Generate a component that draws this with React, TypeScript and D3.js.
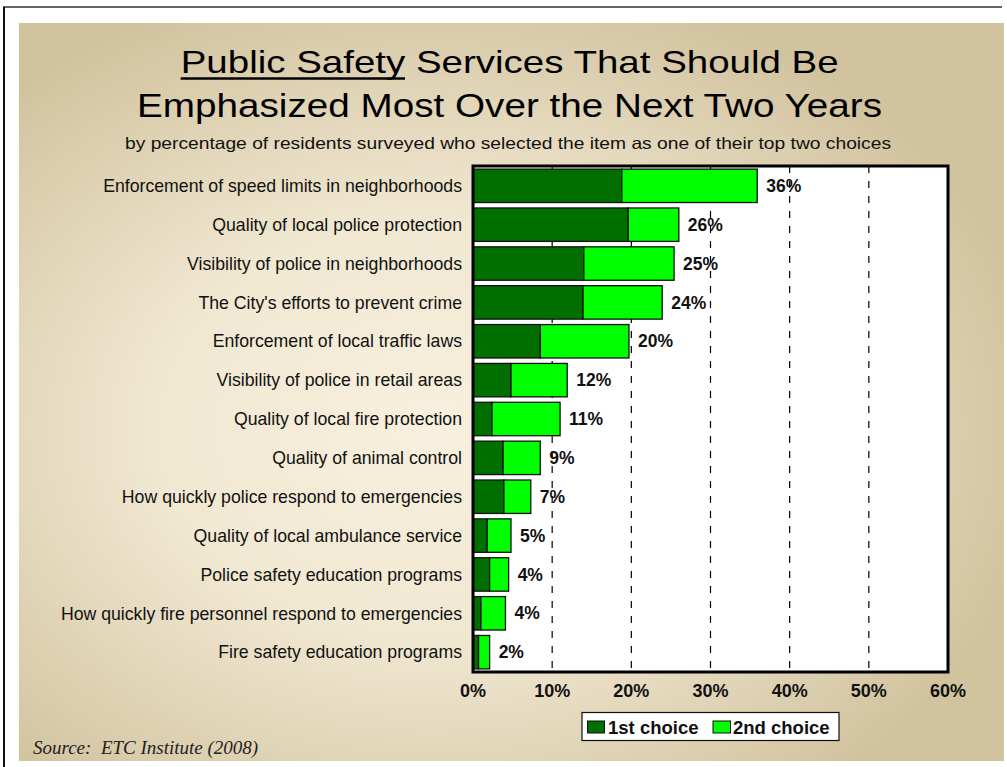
import React from "react";
import * as d3 from "d3";

const categories = [
  "Enforcement of speed limits in neighborhoods",
  "Quality of local police protection",
  "Visibility of police in neighborhoods",
  "The City's efforts to prevent crime",
  "Enforcement of local traffic laws",
  "Visibility of police in retail areas",
  "Quality of local fire protection",
  "Quality of animal control",
  "How quickly police respond to emergencies",
  "Quality of local ambulance service",
  "Police safety education programs",
  "How quickly fire personnel respond to emergencies",
  "Fire safety education programs",
];
const firstChoice = [18.8, 19.6, 14.0, 13.9, 8.5, 4.8, 2.4, 3.8, 3.9, 1.8, 2.1, 1.0, 0.7];
const secondChoice = [17.1, 6.4, 11.4, 10.0, 11.2, 7.1, 8.6, 4.7, 3.4, 3.0, 2.4, 3.1, 1.4];
const totalLabels = ["36%", "26%", "25%", "24%", "20%", "12%", "11%", "9%", "7%", "5%", "4%", "4%", "2%"];
const xTicks = [0, 10, 20, 30, 40, 50, 60];
const seriesNames = ["1st choice", "2nd choice"];
const seriesColors = ["#006f00", "#00ff00"];

const W = 1007;
const H = 767;
const plot = { left: 473, right: 948, top: 166, bottom: 672 };

export default function App() {
  const x = d3.scaleLinear().domain([0, 60]).range([plot.left, plot.right]);
  const y = d3
    .scaleBand<string>()
    .domain(categories)
    .range([plot.top, plot.bottom])
    .paddingInner(0.14)
    .paddingOuter(0.08);
  const bh = y.bandwidth();
  const font = "'Liberation Sans', Arial, Helvetica, sans-serif";

  return (
    <svg
      width={W}
      height={H}
      style={{ position: "absolute", left: 0, top: 0, background: "#fff" }}
      fontFamily={font}
    >
      <defs>
        <radialGradient id="bg" cx="0.42" cy="0.55" r="0.62" fx="0.42" fy="0.55">
          <stop offset="0" stopColor="#f8f0de" />
          <stop offset="0.45" stopColor="#f1e8d2" />
          <stop offset="1" stopColor="#d2c39f" />
        </radialGradient>
      </defs>
      {/* frame */}
      <line x1={3} x2={1002} y1={7} y2={7} stroke="#666" strokeWidth={2} />
      <line x1={4} x2={4} y1={7} y2={767} stroke="#111" strokeWidth={2} />
      <rect x={19} y={23} width={985} height={738} fill="url(#bg)" />

      {/* title */}
      <text x={180.7} y={72.5} fontSize={32} fill="#000" textLength={658} lengthAdjust="spacingAndGlyphs">
        Public Safety Services That Should Be
      </text>
      <line x1={180.7} x2={405} y1={78.5} y2={78.5} stroke="#000" strokeWidth={2.5} />
      <text x={137} y={117} fontSize={32.5} fill="#000" textLength={745} lengthAdjust="spacingAndGlyphs">
        Emphasized Most Over the Next Two Years
      </text>
      <text x={125} y={148.5} fontSize={16.5} fill="#111" textLength={766} lengthAdjust="spacingAndGlyphs">
        by percentage of residents surveyed who selected the item as one of their top two choices
      </text>

      {/* plot area */}
      <rect x={plot.left} y={plot.top} width={plot.right - plot.left} height={plot.bottom - plot.top} fill="#fff" />
      {xTicks.slice(1, -1).map((t) => (
        <line
          key={"g" + t}
          x1={x(t)}
          x2={x(t)}
          y1={plot.top}
          y2={plot.bottom}
          stroke="#000"
          strokeWidth={1.2}
          strokeDasharray="7,8"
        />
      ))}

      {categories.map((c, i) => {
        const y0 = y(c)!;
        return (
          <g key={c}>
            <rect
              x={x(0)}
              y={y0}
              width={x(firstChoice[i]) - x(0)}
              height={bh}
              fill={seriesColors[0]}
              stroke="#111"
              strokeWidth={1.3}
            />
            <rect
              x={x(firstChoice[i])}
              y={y0}
              width={x(firstChoice[i] + secondChoice[i]) - x(firstChoice[i])}
              height={bh}
              fill={seriesColors[1]}
              stroke="#111"
              strokeWidth={1.3}
            />
            <text
              x={x(firstChoice[i] + secondChoice[i]) + 9}
              y={y0 + bh / 2}
              dy="0.35em"
              fontSize={17.5}
              fontWeight="bold"
              fill="#111"
            >
              {totalLabels[i]}
            </text>
            <text
              x={462}
              y={y0 + bh / 2}
              dy="0.35em"
              fontSize={17.7}
              fill="#111"
              textAnchor="end"
            >
              {c}
            </text>
          </g>
        );
      })}

      <rect
        x={plot.left}
        y={plot.top}
        width={plot.right - plot.left}
        height={plot.bottom - plot.top}
        fill="none"
        stroke="#000"
        strokeWidth={3}
      />

      {/* x tick labels */}
      {xTicks.map((t) => (
        <text key={"t" + t} x={x(t)} y={697} fontSize={18} fontWeight="bold" fill="#111" textAnchor="middle">
          {t + "%"}
        </text>
      ))}

      {/* legend */}
      <rect x={582} y={712.5} width={257} height={28} fill="#fff" stroke="#111" strokeWidth={1.2} />
      <rect x={587.5} y={721} width={17} height={12} fill={seriesColors[0]} stroke="#111" strokeWidth={1} />
      <text x={608} y={733.5} fontSize={18.5} fontWeight="bold" fill="#111">
        {seriesNames[0]}
      </text>
      <rect x={713} y={721} width={17.5} height={12} fill={seriesColors[1]} stroke="#111" strokeWidth={1} />
      <text x={733} y={733.5} fontSize={18.5} fontWeight="bold" fill="#111">
        {seriesNames[1]}
      </text>

      {/* source */}
      <text
        x={33}
        y={754}
        fontSize={19}
        fontStyle="italic"
        fontFamily="'Liberation Serif', 'Times New Roman', serif"
        fill="#222"
      >
        {"Source:\u00a0 ETC Institute (2008)"}
      </text>
    </svg>
  );
}
